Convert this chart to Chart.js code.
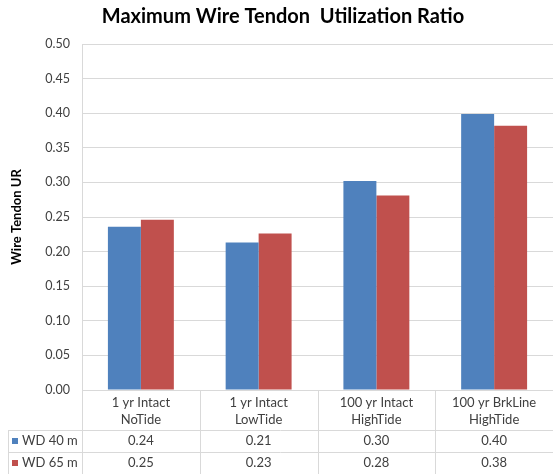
<!DOCTYPE html>
<html>
<head>
<meta charset="utf-8">
<script src="https://cdn.jsdelivr.net/npm/chart.js@4"></script>
<style>
  html, body { margin: 0; padding: 0; background: #fff; }
  #wrap { width: 553px; height: 474px; }
</style>
</head>
<body>
<div id="wrap"><canvas id="urChart" width="553" height="474"></canvas></div>
<script>
// categories and the two water depth series
const categories = [
    ['1 yr Intact', 'NoTide'],
    ['1 yr Intact', 'LowTide'],
    ['100 yr Intact', 'HighTide'],
    ['100 yr BrkLine', 'HighTide']
];
const seriesNames = ['WD 40 m', 'WD 65 m'];
const wd40 = [0.236, 0.213, 0.302, 0.399];
const wd65 = [0.246, 0.226, 0.281, 0.382];
const seriesColors = ['#4f81bd', '#c0504d'];

const FONT = 'Lato, "Liberation Sans", sans-serif';
const gridGrey = '#d9d9d9';

// draws the excel style data table under the plot
const dataTable = {
    id: 'dataTable',
    afterDraw(chart) {
        const ctx = chart.ctx;
        const xs = chart.scales.x;
        const area = chart.chartArea;
        const h = chart.height;
        const n = categories.length;
        const step = (xs.right - xs.left) / n;
        const rowTop = area.bottom + 40;
        const rowH = 22;
        const rows = [wd40, wd65];

        ctx.save();
        ctx.strokeStyle = gridGrey;
        ctx.lineWidth = 1;
        ctx.beginPath();
        // vertical lines on category borders
        for (let i = 0; i <= n; i++) {
            let x = Math.round(xs.left + i * step) + 0.5;
            ctx.moveTo(x, area.bottom);
            ctx.lineTo(x, h);
        }
        // left border of the legend column
        ctx.moveTo(8.5, rowTop);
        ctx.lineTo(8.5, h);
        // row lines
        for (let r = 0; r < rows.length; r++) {
            let y = Math.round(rowTop + r * rowH) + 0.5;
            ctx.moveTo(8, y);
            ctx.lineTo(xs.right, y);
        }
        ctx.stroke();

        ctx.font = '13px ' + FONT;
        ctx.textBaseline = 'middle';
        rows.forEach((vals, r) => {
            let cy = rowTop + r * rowH + rowH / 2;
            // legend key
            ctx.fillStyle = seriesColors[r];
            ctx.fillRect(12, cy - 3, 6, 6);
            ctx.fillStyle = '#404040';
            ctx.textAlign = 'left';
            ctx.fillText(seriesNames[r], 22, cy);
            ctx.textAlign = 'center';
            vals.forEach((v, i) => {
                ctx.fillText(v.toFixed(2), xs.getPixelForValue(i), cy);
            });
        });
        ctx.restore();
    }
};

new Chart(document.getElementById('urChart'), {
    type: 'bar',
    data: {
        labels: categories,
        datasets: [
            {label: seriesNames[0], data: wd40, backgroundColor: seriesColors[0]},
            {label: seriesNames[1], data: wd65, backgroundColor: seriesColors[1]}
        ]
    },
    options: {
        responsive: false,
        animation: false,
        layout: {padding: {left: 9, right: -4, top: 0, bottom: 0}},
        datasets: {
            bar: {barPercentage: 1.0, categoryPercentage: 0.56, borderWidth: 0}
        },
        plugins: {
            legend: {display: false},
            tooltip: {enabled: false},
            title: {
                display: true,
                text: 'Maximum Wire Tendon  Utilization Ratio',
                color: '#000',
                font: {family: FONT, size: 20, weight: 'bold'},
                padding: {top: 5, bottom: 15}
            }
        },
        scales: {
            x: {
                grid: {display: false},
                border: {display: false},
                ticks: {
                    color: '#404040',
                    font: {family: FONT, size: 13, lineHeight: 1.3},
                    padding: -4,
                    maxRotation: 0,
                    autoSkip: false
                },
                afterFit(scale) { scale.height = 84; }
            },
            y: {
                min: 0,
                max: 0.5,
                ticks: {
                    stepSize: 0.05,
                    color: '#404040',
                    font: {family: FONT, size: 12.5},
                    padding: 12,
                    callback: v => v.toFixed(2)
                },
                grid: {color: gridGrey, drawTicks: false},
                border: {color: gridGrey},
                title: {
                    display: true,
                    text: 'Wire Tendon UR',
                    color: '#000',
                    font: {family: FONT, size: 13, weight: 'bold'},
                    padding: {top: 0, bottom: 8}
                },
                afterFit(scale) { scale.width = 73; }
            }
        }
    },
    plugins: [dataTable]
});
</script>
</body>
</html>
